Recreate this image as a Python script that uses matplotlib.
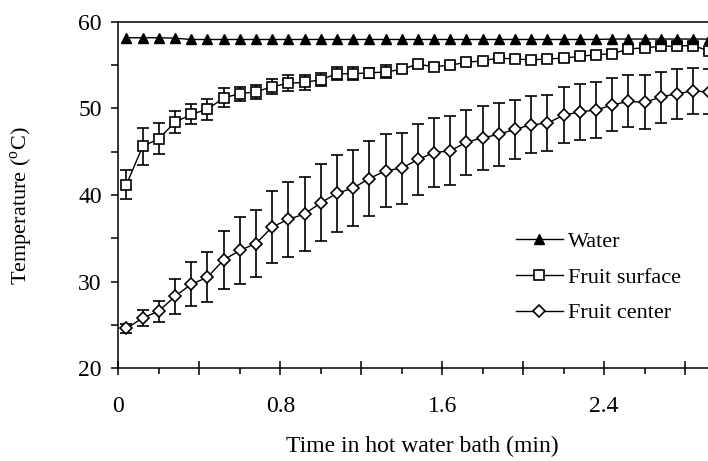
import matplotlib
matplotlib.use("Agg")
import matplotlib.pyplot as plt
from matplotlib.ticker import MultipleLocator, FixedLocator, FuncFormatter

plt.rcParams['font.family'] = ['Liberation Serif', 'DejaVu Serif']
plt.rcParams['mathtext.fontset'] = 'custom'
plt.rcParams['mathtext.rm'] = 'Liberation Serif'

# ---- data ----
times = [0.04, 0.12, 0.20, 0.28, 0.36, 0.44, 0.52, 0.60, 0.68, 0.76,
         0.84, 0.92, 1.00, 1.08, 1.16, 1.24, 1.32, 1.40, 1.48, 1.56,
         1.64, 1.72, 1.80, 1.88, 1.96, 2.04, 2.12, 2.20, 2.28, 2.36,
         2.44, 2.52, 2.60, 2.68, 2.76, 2.84, 2.92]

water = [58.15, 58.15, 58.15, 58.1, 57.95, 57.95, 57.95, 57.95, 57.95, 57.95,
         57.95, 57.95, 57.95, 57.95, 57.95, 57.95, 57.95, 57.95, 57.95, 57.95,
         57.95, 57.95, 57.95, 57.95, 57.95, 57.95, 57.95, 57.95, 57.95, 57.95,
         58.0, 58.0, 58.0, 58.0, 58.0, 58.0, 58.0]

surface = [41.2, 45.6, 46.5, 48.4, 49.3, 49.9, 51.2, 51.7, 51.9, 52.5,
           52.9, 53.0, 53.3, 54.0, 54.0, 54.1, 54.2, 54.5, 55.1, 54.8,
           55.0, 55.3, 55.5, 55.8, 55.7, 55.6, 55.7, 55.8, 56.0, 56.2,
           56.3, 56.85, 57.0, 57.15, 57.2, 57.25, 56.6]
surface_err = [1.7, 2.1, 1.8, 1.3, 1.15, 1.2, 1.1, 0.8, 0.85, 0.85,
               0.95, 0.9, 0.75, 0.75, 0.75, 0.6, 0.75, 0.3, 0.3, 0.3,
               0.3, 0.3, 0.3, 0.3, 0.3, 0.3, 0.3, 0.3, 0.3, 0.3,
               0.3, 0.3, 0.3, 0.3, 0.3, 0.3, 0.3]

center = [24.6, 25.8, 26.6, 28.3, 29.7, 30.5, 32.5, 33.6, 34.4, 36.3,
          37.2, 37.8, 39.1, 40.2, 40.8, 41.9, 42.8, 43.1, 44.1, 44.9,
          45.1, 46.1, 46.6, 47.0, 47.6, 48.1, 48.3, 49.2, 49.6, 49.8,
          50.4, 50.8, 50.7, 51.3, 51.7, 52.0, 51.9]
center_err = [0.5, 0.9, 1.2, 2.0, 2.55, 2.9, 3.3, 3.85, 3.9, 4.2,
              4.3, 4.3, 4.45, 4.45, 4.4, 4.3, 4.2, 4.1, 4.1, 4.0,
              4.0, 3.75, 3.7, 3.6, 3.4, 3.3, 3.2, 3.25, 3.2, 3.2,
              3.05, 3.0, 3.1, 2.95, 2.9, 2.7, 2.6]

series_labels = ["Water", "Fruit surface", "Fruit center"]
x_label = "Time in hot water bath (min)"
y_label = "Temperature ($^{\\mathrm{o}}$C)"

# ---- figure ----
fig = plt.figure(figsize=(7.08, 4.61), dpi=100)
ax = fig.add_axes([0.1671, 0.2011, 0.8329, 0.7518])

ebkw = dict(fmt='none', ecolor='black', elinewidth=1.2, capsize=4.5, capthick=1.2, zorder=2)
ax.errorbar(times, center, yerr=center_err, **ebkw)
ax.errorbar(times, surface, yerr=surface_err, **ebkw)

l_center, = ax.plot(times, center, color='black', lw=1.0, marker='D', ms=5.8,
                    mfc='white', mec='black', mew=1.2, zorder=3, label=series_labels[2])
l_surface, = ax.plot(times, surface, color='black', lw=1.0, marker='s', ms=7.8,
                     mfc='white', mec='black', mew=1.2, zorder=4, label=series_labels[1])
l_water, = ax.plot(times, water, color='black', lw=1.0, marker='^', ms=7.2,
                   mfc='black', mec='black', mew=1.0, zorder=5, label=series_labels[0])

ax.set_xlim(0, 2.913)
ax.set_ylim(20, 60)

for s in ['left', 'bottom', 'top']:
    ax.spines[s].set_linewidth(1.1)
ax.spines['right'].set_visible(False)

ax.yaxis.set_major_locator(MultipleLocator(10))
ax.yaxis.set_minor_locator(MultipleLocator(5))
ax.tick_params(axis='y', which='both', direction='out', length=5, width=1.1,
               labelsize=17, pad=7)
ax.xaxis.set_major_locator(FixedLocator([0, 0.4, 0.8, 1.2, 1.6, 2.0, 2.4, 2.8]))
ax.xaxis.set_minor_locator(FixedLocator([0.2, 0.6, 1.0, 1.4, 1.8, 2.2, 2.6]))
ax.xaxis.set_major_formatter(FuncFormatter(
    lambda v, p: ('0' if abs(v) < 1e-9 else f"{v:.1f}") if abs(round(v / 0.8) * 0.8 - v) < 1e-6 else ''))
ax.tick_params(axis='x', which='major', direction='inout', length=10, width=1.1,
               labelsize=17, pad=15)
ax.tick_params(axis='x', which='minor', direction='out', length=4, width=1.1)
ax.tick_params(top=False, right=False, which='both')

ax.set_xlabel(x_label, fontsize=17)
ax.set_ylabel(y_label, fontsize=16)
ax.xaxis.set_label_coords(0.516, -0.195)
ax.yaxis.set_label_coords(-0.141, 0.47)

leg = ax.legend(handles=[l_water, l_surface, l_center], loc='center left',
                bbox_to_anchor=(516 / 708, 1 - 277.5 / 461), bbox_transform=fig.transFigure,
                frameon=False, fontsize=16, handlelength=2.1, handletextpad=0.25,
                labelspacing=0.68, borderpad=0, borderaxespad=0)

fig.savefig("out.png", dpi=100)
